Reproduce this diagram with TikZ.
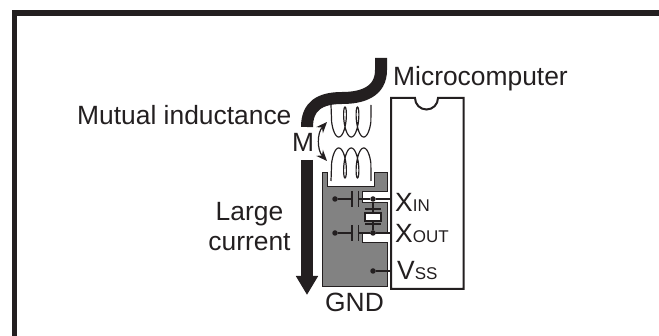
\documentclass[tikz,border=0pt]{standalone}
\usepackage{fontspec}
\setmainfont{Liberation Sans}
\usetikzlibrary{arrows.meta}
\definecolor{inkblack}{HTML}{231F20}
\definecolor{gndgray}{HTML}{828282}
\tikzset{
    lbl/.style={text=inkblack, inner sep=0pt, anchor=base west, font=\fontsize{26.4}{30}\selectfont},
    lblc/.style={lbl, anchor=base, align=center},
    coil/.style={draw=inkblack, line width=1.2pt, samples=140},
    wire/.style={draw=inkblack, line width=1.3pt},
    pindot/.style={circle, fill=inkblack, inner sep=0pt, minimum size=5.5pt},
}
\newcommand{\smallcap}[1]{{\fontsize{17}{20}\selectfont #1}}

\begin{document}
\begin{tikzpicture}[x=1pt, y=-1pt]
\useasboundingbox (0,0) rectangle (659,336);

% Outer frame
\draw[inkblack, line width=5.5pt] (14.5,336) -- (14.5,13) -- (659,13);

% GND copper area
\filldraw[fill=gndgray, draw=inkblack, line width=1pt]
    (322,173) -- (327,173) -- (327,187) -- (374,187) -- (374,173) -- (387,173)
    -- (387,192) -- (362,192) -- (362,203) -- (387,203) -- (387,234) -- (362,234)
    -- (362,243) -- (387,243) -- (387,287) -- (322,287) -- cycle;

% Microcomputer package
\filldraw[fill=white, draw=inkblack, line width=2pt]
    (391,98) -- (415,98) arc (180:360:11.5 and -11.5) -- (463.5,98) -- (463.5,289) -- (391,289) -- cycle;

% Heavy current track
\draw[inkblack, line width=12pt] (381,58) -- (381,70) .. controls (381,92) and (362,98) .. (342,98)
    .. controls (320,98) and (307,106) .. (307,127);
\coordinate (tracktop) at (307,160);
\coordinate (tracktip) at (307,295);
\draw[inkblack, line width=12pt, -{Triangle[length=19pt, width=21pt]}] (tracktop) -- (tracktip);

% Coils
\draw[coil, domain=-270:630] (331,105) -- plot ({345+0.0347*\x-4*sin(\x)},{122-15*cos(\x)}) -- (371,105);
\draw[coil, domain=-270:630] (331,181) -- plot ({345+0.0347*\x-4*sin(\x)},{163+15*cos(\x)}) -- (371,181);

% Coupling arrow
\coordinate (mtop) at (327,122);
\coordinate (mbot) at (327,161);
\draw[inkblack, line width=1.2pt, {Stealth[length=11pt, width=9pt]}-{Stealth[length=11pt, width=9pt]}]
    (mtop) .. controls (317,133) and (317,150) .. (mbot);

% Load capacitors and pins
\foreach \n/\y in {in/199, out/233} {
    \node[pindot] (gnd\n) at (335,\y) {};
    \node[pindot] (x\n) at (373,\y) {};
    \coordinate (capl\n) at (352,\y);
    \coordinate (capr\n) at (358.5,\y);
    \coordinate (pin\n) at (391,\y);
    \draw[wire] (gnd\n) -- (capl\n);
    \draw[wire] (capr\n) -- (x\n) -- (pin\n);
    \draw[wire] (352,\y-8) -- (352,\y+8);
    \draw[wire] (358.5,\y-8) -- (358.5,\y+8);
}

% Crystal
\node[draw=inkblack, fill=white, line width=1.3pt, inner sep=0pt, minimum width=16pt, minimum height=8pt] (crystal) at (373,217) {};
\draw[wire] (xin) -- (crystal);
\draw[wire] (xout) -- (crystal);
\draw[wire] (365,209) -- (381,209);
\draw[wire] (365,224) -- (381,224);

% Vss connection
\node[pindot] (vssdot) at (373,271) {};
\coordinate (pinvss) at (391,271);
\draw[wire] (vssdot) -- (pinvss);

% Labels
\node[lbl] (microlbl) at (393,85.5) {Microcomputer};
\node[lbl] (mutuallbl) at (77,125) {Mutual inductance};
\node[lbl] (mlbl) at (292,152) {M};
\node[lblc] (largelbl) at (249.5,221) {Large};
\node[lblc] (currentlbl) at (249.5,251) {current};
\node[lbl] (gndlbl) at (325,312) {GND};
\node[lbl] (xinlbl) at (395,212) {X\smallcap{IN}};
\node[lbl] (xoutlbl) at (395,243) {X\smallcap{OUT}};
\node[lbl] (vsslbl) at (397,280) {V\smallcap{SS}};

\end{tikzpicture}
\end{document}
